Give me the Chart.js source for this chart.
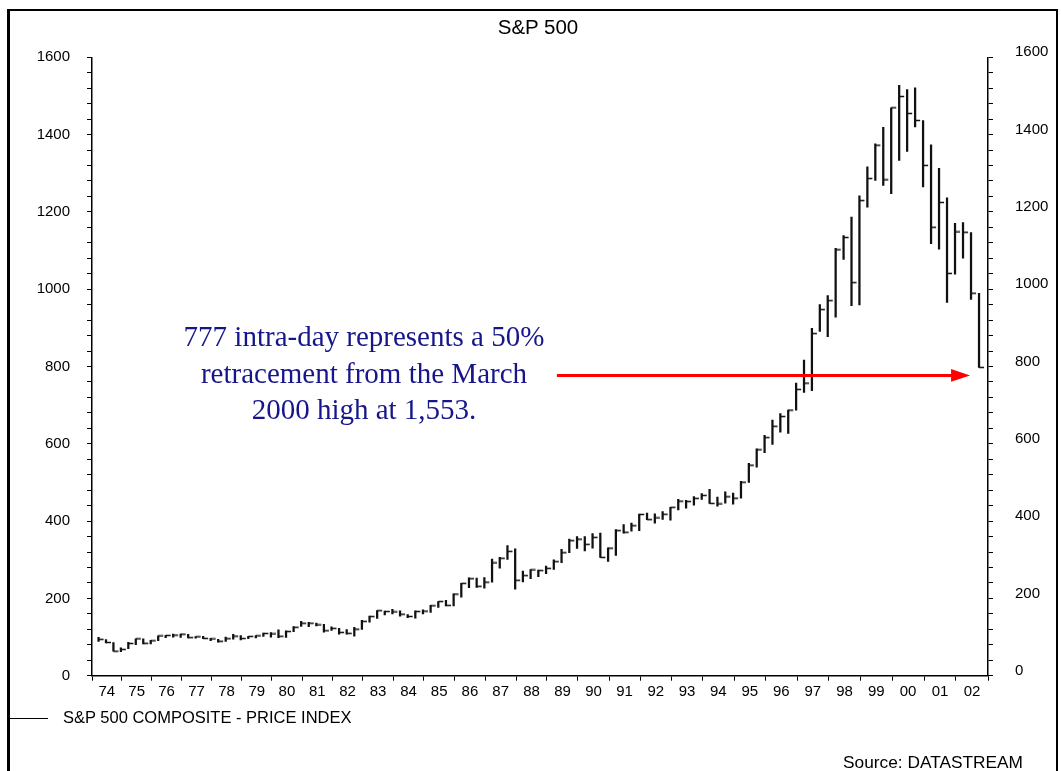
<!DOCTYPE html>
<html>
<head>
<meta charset="utf-8">
<script src="https://cdn.jsdelivr.net/npm/chart.js@4.4.1/dist/chart.umd.min.js"></script>
<style>
  html, body { margin:0; padding:0; background:#fff; }
  #wrap { position:relative; width:1061px; height:771px; overflow:hidden; background:#fff; }
  #chart { position:absolute; left:0; top:0; }
  #frame { position:absolute; left:7px; top:9px; width:1051px; height:820px; box-sizing:border-box;
           border-left:3px solid #000; border-top:2px solid #000; border-right:2px solid #000; }
  .txt { position:absolute; white-space:nowrap; font-family:"Liberation Sans", Arial, sans-serif; color:#000; }
  #title { left:438px; width:200px; text-align:center; top:14px; font-size:20.5px; line-height:26px; }
  #note { left:164px; width:400px; text-align:center; top:318px; font-family:"Liberation Serif", "Times New Roman", serif;
          font-size:29px; line-height:36.5px; color:#16168a; }
  #legline { position:absolute; left:10px; top:718px; width:38px; height:1px; background:#000; }
  #legtext { left:63px; top:707px; font-size:16.5px; line-height:20px; }
  #source { right:38px; top:752px; font-size:17.3px; line-height:20px; }
</style>
</head>
<body>
<div id="wrap">
  <canvas id="chart" width="1061" height="771"></canvas>
  <div id="frame"></div>
  <div class="txt" id="title">S&amp;P 500</div>
  <div class="txt" id="note">777 intra-day represents a 50%<br>retracement from the March<br>2000 high at 1,553.</div>
  <div id="legline"></div>
  <div class="txt" id="legtext">S&amp;P 500 COMPOSITE - PRICE INDEX</div>
  <div class="txt" id="source">Source: DATASTREAM</div>
</div>
<script>
// ---------------- data ----------------
const years = [1974,1975,1976,1977,1978,1979,1980,1981,1982,1983,1984,1985,1986,1987,1988,
               1989,1990,1991,1992,1993,1994,1995,1996,1997,1998,1999,2000,2001,2002];
const yearLabels = ['74','75','76','77','78','79','80','81','82','83','84','85','86','87','88',
                    '89','90','91','92','93','94','95','96','97','98','99','00','01','02'];
const quarterNames = ['Q1','Q2','Q3','Q4'];

// quarterly high / low / close, 1974 Q1 .. 2002 Q3
const high = [
  99.0, 93.5, 86.0, 72.0,
  86.3, 95.2, 95.6, 91.2,
  103.4, 104.3, 107.8, 107.8,
  107.0, 100.9, 101.8, 97.0,
  93.8, 99.6, 107.0, 104.0,
  102.0, 103.9, 110.0, 111.3,
  118.4, 116.0, 127.0, 140.5,
  138.1, 136.0, 133.0, 126.4,
  122.7, 119.3, 124.9, 143.0,
  154.5, 168.3, 167.4, 172.0,
  168.0, 158.0, 168.0, 170.4,
  182.0, 191.9, 195.0, 212.0,
  238.9, 253.0, 252.7, 254.0,
  301.9, 306.0, 336.8, 328.1,
  271.0, 274.3, 273.0, 283.7,
  300.0, 327.0, 353.7, 359.8,
  359.7, 368.0, 369.0, 331.0,
  378.0, 391.0, 395.0, 418.0,
  420.8, 418.5, 424.4, 435.7,
  456.3, 453.7, 463.6, 470.9,
  482.0, 462.0, 475.5, 472.2,
  503.2, 549.7, 586.8, 621.7,
  661.5, 678.5, 687.3, 757.0,
  816.3, 898.7, 960.3, 983.8,
  1105.7, 1138.5, 1186.8, 1241.8,
  1316.6, 1376.0, 1418.8, 1469.3,
  1527.5, 1516.4, 1520.8, 1436.5,
  1373.7, 1312.8, 1236.7, 1170.4,
  1172.5, 1146.5, 989.0
];
const low = [
  89.0, 84.5, 63.5, 62.3,
  70.0, 80.4, 82.1, 82.3,
  90.9, 98.6, 99.9, 98.8,
  97.5, 96.9, 96.0, 90.7,
  86.9, 88.5, 94.3, 92.5,
  96.1, 98.0, 101.8, 99.9,
  98.2, 99.0, 114.0, 127.4,
  126.6, 128.6, 112.8, 117.1,
  107.3, 107.3, 102.4, 119.5,
  138.3, 148.4, 157.0, 160.0,
  154.3, 150.4, 149.0, 160.0,
  163.7, 176.9, 180.7, 180.3,
  203.5, 228.0, 228.3, 226.5,
  242.0, 278.0, 301.0, 223.9,
  242.6, 251.0, 256.0, 264.0,
  275.3, 292.4, 318.0, 329.6,
  323.0, 330.0, 306.0, 295.5,
  311.5, 368.6, 374.0, 375.0,
  403.7, 394.5, 404.6, 402.7,
  429.0, 433.5, 441.4, 456.0,
  445.6, 438.9, 446.1, 444.0,
  459.1, 500.2, 539.8, 577.0,
  598.5, 630.0, 626.7, 687.0,
  733.0, 737.7, 891.0, 876.9,
  927.7, 1076.8, 957.3, 959.4,
  1212.2, 1281.4, 1268.4, 1247.4,
  1333.4, 1356.6, 1419.9, 1264.7,
  1117.6, 1103.3, 965.8, 1038.6,
  1080.0, 973.5, 797.7
];
const close = [
  94.0, 86.0, 63.5, 68.0,
  83.4, 95.2, 83.9, 90.2,
  102.8, 104.3, 105.2, 107.5,
  98.4, 100.5, 96.5, 95.1,
  89.2, 95.5, 102.5, 96.1,
  101.6, 102.9, 109.3, 107.9,
  102.1, 114.2, 125.5, 135.8,
  136.0, 131.2, 116.2, 122.6,
  112.0, 109.6, 120.4, 140.6,
  153.0, 168.1, 166.1, 164.9,
  159.2, 153.2, 166.1, 167.2,
  180.7, 191.9, 182.1, 211.3,
  238.9, 250.8, 231.3, 242.2,
  291.7, 304.0, 321.8, 247.1,
  258.9, 273.5, 271.9, 277.7,
  294.9, 318.0, 349.2, 353.4,
  339.9, 358.0, 306.1, 330.2,
  375.2, 371.2, 387.9, 417.1,
  403.7, 408.1, 417.8, 435.7,
  451.7, 450.5, 458.9, 466.5,
  445.8, 444.3, 462.7, 459.3,
  500.7, 544.8, 584.4, 615.9,
  645.5, 670.6, 687.3, 740.7,
  757.1, 885.1, 947.3, 970.4,
  1101.8, 1133.8, 1017.0, 1229.2,
  1286.4, 1372.7, 1282.7, 1469.3,
  1498.6, 1454.6, 1436.5, 1320.3,
  1160.3, 1224.4, 1040.9, 1148.1,
  1147.4, 989.8, 797.7
];
const yMin = 0, yMax = 1600, yMinorStep = 40, yLabelStep = 200;
const retracementLevel = 777;          // arrow level
const arrowFrom = 1989.32, arrowTo = 2002.44;  // arrow extent (dates)

// ------------- build -------------
const quarterLabels = [];
const quarterTime = [];
for (let i = 0; i < high.length; i++) {
  const y = years[Math.floor(i / 4)], q = i % 4;
  quarterLabels.push(y + ' ' + quarterNames[q]);
  quarterTime.push(y + (q + 1) * 0.25 - 0.03);   // near quarter end
}
const rangeData = quarterTime.map((t, i) => ({ x: t, y: [low[i], high[i]] }));
const closeData = quarterTime.map((t, i) => ({ x: t, y: close[i] }));

// slightly progressive time axis (matches the source's stretched later years)
const WARP = 0.0378;
class WarpScale extends Chart.LinearScale {
  getPixelForValue(value) {
    if (value === null || value === undefined) return NaN;
    const f = (value - this._startValue) / this._valueRange;
    return this.getPixelForDecimal((1 - WARP) * f + WARP * f * f);
  }
  getValueForPixel(pixel) {
    const g = this.getDecimalForPixel(pixel);
    const a = WARP, b = 1 - WARP;
    const f = (-b + Math.sqrt(b * b + 4 * a * g)) / (2 * a);
    return this._startValue + f * this._valueRange;
  }
}
WarpScale.id = 'warp';
WarpScale.defaults = Chart.LinearScale.defaults;
Chart.register(WarpScale);

// close tick image: short stroke to the right of the bar
const tickImg = document.createElement('canvas');
tickImg.width = 12; tickImg.height = 3;
(function () { const c = tickImg.getContext('2d'); c.fillStyle = '#111'; c.fillRect(6, 0.75, 5, 1.5); })();

const arrowPlugin = {
  id: 'arrow',
  afterDatasetsDraw(chart) {
    const { ctx, scales: { x, y } } = chart;
    const yy = y.getPixelForValue(retracementLevel);
    const x0 = x.getPixelForValue(arrowFrom);
    const x1 = x.getPixelForValue(arrowTo);
    ctx.save();
    ctx.strokeStyle = '#ff0000';
    ctx.fillStyle = '#ff0000';
    ctx.lineWidth = 3;
    ctx.beginPath(); ctx.moveTo(x0, yy); ctx.lineTo(x1 - 17, yy); ctx.stroke();
    ctx.beginPath(); ctx.moveTo(x1, yy); ctx.lineTo(x1 - 19, yy - 6.3); ctx.lineTo(x1 - 19, yy + 6.3); ctx.closePath(); ctx.fill();
    ctx.restore();
  }
};

const tickFont = { family: '"Liberation Sans", Arial, sans-serif', size: 15 };
const yTickValues = [];
for (let v = yMin; v <= yMax; v += yMinorStep) yTickValues.push(v);
const xTickValues = [];
years.forEach(y => { xTickValues.push(y); xTickValues.push(y + 0.5); });
xTickValues.push(years[years.length - 1] + 1);
const isMid = v => Math.abs(v - Math.floor(v) - 0.5) < 1e-6;

function yAxis(position, padding, labelOffset, width) {
  return {
    type: 'linear', position, min: yMin, max: yMax,
    afterBuildTicks: s => { s.ticks = yTickValues.map(v => ({ value: v })); },
    afterFit: s => { s.width = width; },
    ticks: { autoSkip: false, font: tickFont, color: '#000', padding, labelOffset,
             callback: v => (v % yLabelStep === 0 ? String(v) : '') },
    grid: { display: true, drawOnChartArea: false, drawTicks: true, tickLength: 5, color: '#000', lineWidth: 1 },
    border: { display: true, color: '#000', width: 1.5 }
  };
}

new Chart(document.getElementById('chart'), {
  type: 'bar',
  data: {
    labels: quarterLabels,
    datasets: [
      { type: 'bar', label: 'range', data: rangeData, backgroundColor: '#111', borderWidth: 0,
        barThickness: 1.6, grouped: false, order: 2 },
      { type: 'scatter', label: 'close', data: closeData, pointStyle: tickImg, pointRadius: 3,
        showLine: false, order: 1 }
    ]
  },
  options: {
    responsive: false,
    animation: false,
    devicePixelRatio: 1,
    events: [],
    layout: { padding: { left: 0, right: 0, top: 57.3, bottom: 0 } },
    plugins: { legend: { display: false }, title: { display: false }, tooltip: { enabled: false } },
    scales: {
      x: {
        type: 'warp', min: years[0], max: years[years.length - 1] + 1, offset: false,
        afterBuildTicks: s => { s.ticks = xTickValues.map(v => ({ value: v })); },
        afterFit: s => { s.height = 95.3; },
        ticks: { autoSkip: false, maxRotation: 0, minRotation: 0, font: tickFont, color: '#000', padding: 2,
                 callback: v => (isMid(v) ? yearLabels[Math.floor(v) - years[0]] : '') },
        grid: { display: true, offset: false, drawOnChartArea: false, drawTicks: true, tickLength: 5, lineWidth: 1,
                color: c => (c.tick && isMid(c.tick.value) ? 'rgba(0,0,0,0)' : '#000') },
        border: { display: true, color: '#000', width: 1.5 }
      },
      y: yAxis('left', 17, 0, 92),
      y2: yAxis('right', 22, -5, 73)
    }
  },
  plugins: [arrowPlugin]
});
</script>
</body>
</html>
